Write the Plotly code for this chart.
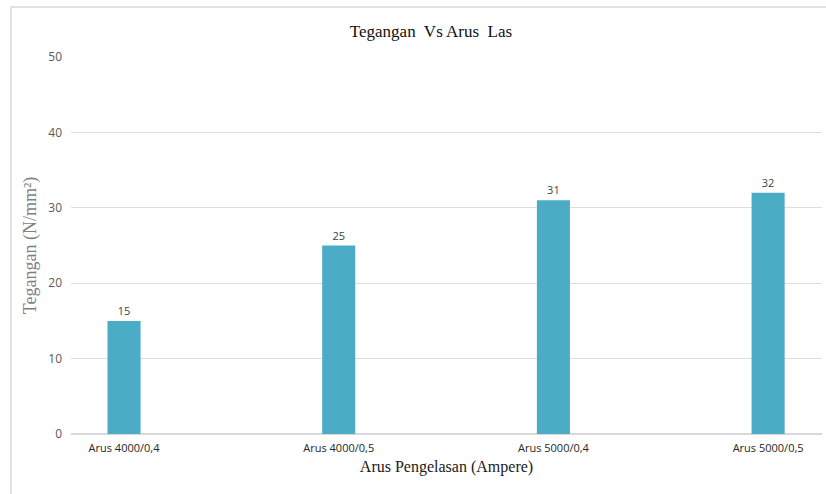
import plotly.graph_objects as go

categories = ["Arus 4000/0,4", "Arus 4000/0,5", "Arus 5000/0,4", "Arus 5000/0,5"]
values = [15, 25, 31, 32]
y_ticks = [0, 10, 20, 30, 40, 50]

W, H = 826, 494
L, R, T, B = 71, 4, 57, 60
pw = W - L - R
ph = H - T - B

fig = go.Figure()
fig.add_trace(go.Bar(
    x=categories, y=values, width=0.154,
    marker=dict(color="#4BACC6", line=dict(width=0)),
    text=[str(v) for v in values], textposition="outside",
    textfont=dict(family="Open Sans, Liberation Sans, sans-serif", size=11, color="#404040"),
    cliponaxis=False,
))

# outer chart border
bx0 = (11 - L) / pw
by1 = (H - B - 7) / ph
fig.add_shape(type="rect", xref="paper", yref="paper",
              x0=bx0, x1=(W + 5 - L) / pw, y0=-(B + 5) / ph, y1=by1,
              line=dict(color="#d9d9d9", width=1.5), layer="below")

fig.update_layout(
    width=W, height=H,
    margin=dict(l=L, r=R, t=T, b=B),
    paper_bgcolor="white", plot_bgcolor="white",
    showlegend=False,
    title=dict(text="Tegangan\u00a0 Vs Arus\u00a0 Las", x=(431 - L) / pw, xref="paper", xanchor="center",
               y=1 - 31 / H, yanchor="middle",
               font=dict(family="Liberation Serif, Times New Roman, serif", size=17, color="#111111")),
    xaxis=dict(range=[-0.247, 3.251], showgrid=False, showline=False, ticks="",
               tickfont=dict(family="Open Sans, Liberation Sans, sans-serif", size=11, color="#262626"),
               ticklabelstandoff=6,
               title=dict(text="Arus Pengelasan (Ampere)", standoff=6,
                          font=dict(family="Liberation Serif, Times New Roman, serif", size=16, color="#1a1a1a"))),
    yaxis=dict(range=[0, 50], tickvals=y_ticks, showgrid=True, gridcolor="#dedede", gridwidth=1,
               zeroline=True, zerolinecolor="#d9d9d9", zerolinewidth=1.5, showline=False,
               tickfont=dict(family="Open Sans, Liberation Sans, sans-serif", size=12, color="#595959"),
               ticklabelstandoff=8,
               title=dict(text="Tegangan (N/mm²)", standoff=6,
                          font=dict(family="Liberation Serif, Times New Roman, serif", size=18, color="#7f7f7f"))),
)

fig.write_html("out.html")
